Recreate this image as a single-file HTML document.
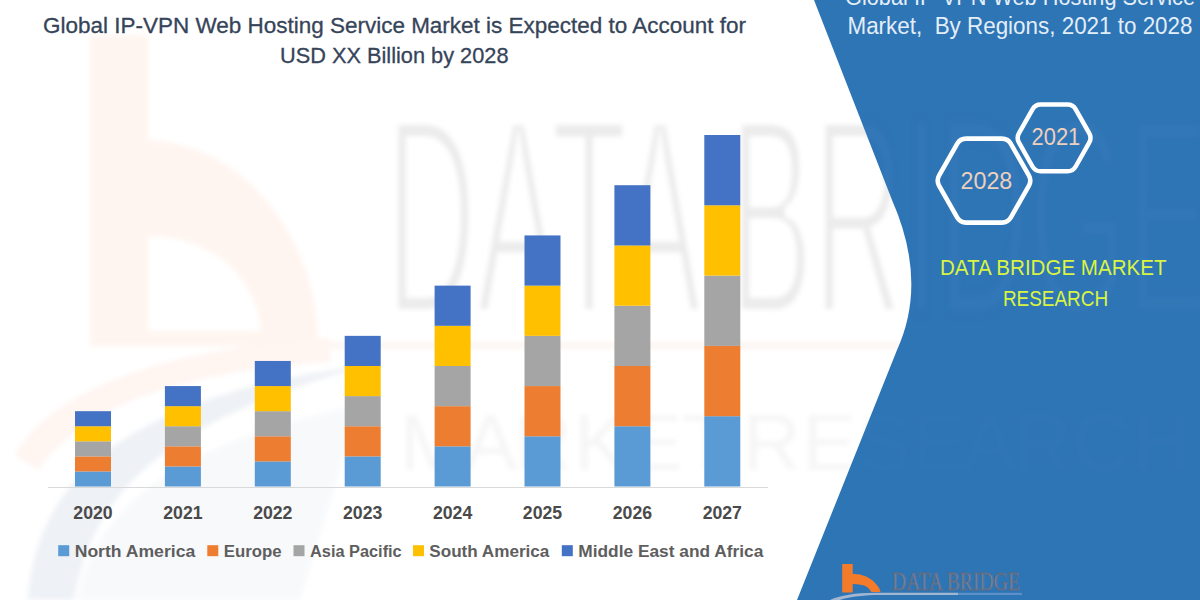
<!DOCTYPE html>
<html><head><meta charset="utf-8">
<style>
html,body{margin:0;padding:0;width:1200px;height:600px;overflow:hidden;background:#fff}
svg{display:block}
text{font-family:"Liberation Sans",sans-serif;white-space:pre}
.yr{font-weight:bold;font-size:17.9px;fill:#4A4A4A}
.lg{font-weight:bold;font-size:16px;fill:#5E5E5E}
.tt{font-size:22px;fill:#364459;stroke:#364459;stroke-width:0.3px}
.rt{font-size:23px;fill:#E3EEF8}
.hx{font-size:23.5px;fill:#EFD0BD}
.dbm{font-size:22px;fill:#DAF442}
.wm{font-size:282px;fill:#EBEBEB;stroke:#FFFFFF;stroke-width:10px}
</style></head><body>
<svg width="1200" height="600" viewBox="0 0 1200 600">
<defs><filter id="bl" x="-10%" y="-10%" width="120%" height="120%"><feGaussianBlur stdDeviation="2.5"/></filter></defs>
<rect width="1200" height="600" fill="#FFFFFF"/>
<g filter="url(#bl)">
<!-- watermark b -->
<path fill-rule="evenodd" d="M90,35 L148,35 L148,140 Q232,145 282,222 Q318,278 318,346 L90,346 Z M148,236 Q192,236 226,262 Q258,290 261,331 L148,331 Z" fill="#FFF5F0"/>
<!-- pink arc -->
<path d="M15,455 C50,395 150,350 330,338 L330,362 C170,372 80,410 38,470 Z" fill="#FFF5F1"/>
<!-- swoosh -->
<path d="M78,600 C95,500 190,440 360,405 L300,600 Z" fill="#F8F9FB"/>
<path d="M28,600 C35,485 120,395 370,365 C170,418 92,490 74,600 Z" fill="#EEF1F6"/>
<rect x="330" y="342" width="570" height="7" fill="#FCF6F3"/>
<!-- watermark letters -->
<text x="386" y="314" textLength="824" lengthAdjust="spacingAndGlyphs" class="wm">DATA BRIDGE</text>
<text x="400" y="470" textLength="790" lengthAdjust="spacing" style="font-size:80px;fill:#F6F6F6">M A R K E T  R E S E A R C H</text>
</g>
<!-- blue panel -->
<path d="M814,0 L892,200 Q928,282 897,350 L797,600 L1200,600 L1200,0 Z" fill="#2E75B6"/>
<clipPath id="pc"><path d="M814,0 L892,200 Q928,282 897,350 L797,600 L1200,600 L1200,0 Z"/></clipPath>
<g clip-path="url(#pc)" opacity="0.02" filter="url(#bl)">
<text x="386" y="314" textLength="824" lengthAdjust="spacingAndGlyphs" style="font-size:282px;fill:#FFFFFF;stroke:#2E75B6;stroke-width:11px">DATA BRIDGE</text>
<text x="400" y="470" textLength="790" lengthAdjust="spacing" style="font-size:80px;fill:#FFFFFF;opacity:0.6">M A R K E T  R E S E A R C H</text>
</g>
<!-- title -->
<text x="43" y="32.5" textLength="703" lengthAdjust="spacingAndGlyphs" class="tt">Global IP-VPN Web Hosting Service Market is Expected to Account for</text>
<text x="280" y="62.5" textLength="228.5" lengthAdjust="spacingAndGlyphs" class="tt">USD XX Billion by 2028</text>
<!-- axis -->
<line x1="48" y1="487.5" x2="768" y2="487.5" stroke="#D9D9D9" stroke-width="1"/>
<rect x="75.0" y="471.44" width="36" height="15.06" fill="#5B9BD5"/><rect x="75.0" y="456.37" width="36" height="15.06" fill="#ED7D31"/><rect x="75.0" y="441.31" width="36" height="15.06" fill="#A5A5A5"/><rect x="75.0" y="426.24" width="36" height="15.06" fill="#FFC000"/><rect x="75.0" y="411.18" width="36" height="15.06" fill="#4472C4"/><rect x="164.9" y="466.41" width="36" height="20.09" fill="#5B9BD5"/><rect x="164.9" y="446.33" width="36" height="20.09" fill="#ED7D31"/><rect x="164.9" y="426.24" width="36" height="20.09" fill="#A5A5A5"/><rect x="164.9" y="406.16" width="36" height="20.09" fill="#FFC000"/><rect x="164.9" y="386.07" width="36" height="20.09" fill="#4472C4"/><rect x="254.8" y="461.39" width="36" height="25.11" fill="#5B9BD5"/><rect x="254.8" y="436.29" width="36" height="25.11" fill="#ED7D31"/><rect x="254.8" y="411.18" width="36" height="25.11" fill="#A5A5A5"/><rect x="254.8" y="386.07" width="36" height="25.11" fill="#FFC000"/><rect x="254.8" y="360.96" width="36" height="25.11" fill="#4472C4"/><rect x="344.7" y="456.37" width="36" height="30.13" fill="#5B9BD5"/><rect x="344.7" y="426.24" width="36" height="30.13" fill="#ED7D31"/><rect x="344.7" y="396.11" width="36" height="30.13" fill="#A5A5A5"/><rect x="344.7" y="365.98" width="36" height="30.13" fill="#FFC000"/><rect x="344.7" y="335.86" width="36" height="30.13" fill="#4472C4"/><rect x="434.6" y="446.33" width="36" height="40.17" fill="#5B9BD5"/><rect x="434.6" y="406.16" width="36" height="40.17" fill="#ED7D31"/><rect x="434.6" y="365.98" width="36" height="40.17" fill="#A5A5A5"/><rect x="434.6" y="325.81" width="36" height="40.17" fill="#FFC000"/><rect x="434.6" y="285.64" width="36" height="40.17" fill="#4472C4"/><rect x="524.5" y="436.29" width="36" height="50.21" fill="#5B9BD5"/><rect x="524.5" y="386.07" width="36" height="50.21" fill="#ED7D31"/><rect x="524.5" y="335.86" width="36" height="50.21" fill="#A5A5A5"/><rect x="524.5" y="285.64" width="36" height="50.21" fill="#FFC000"/><rect x="524.5" y="235.43" width="36" height="50.21" fill="#4472C4"/><rect x="614.4" y="426.24" width="36" height="60.26" fill="#5B9BD5"/><rect x="614.4" y="365.98" width="36" height="60.26" fill="#ED7D31"/><rect x="614.4" y="305.73" width="36" height="60.26" fill="#A5A5A5"/><rect x="614.4" y="245.47" width="36" height="60.26" fill="#FFC000"/><rect x="614.4" y="185.21" width="36" height="60.26" fill="#4472C4"/><rect x="704.3" y="416.20" width="36" height="70.30" fill="#5B9BD5"/><rect x="704.3" y="345.90" width="36" height="70.30" fill="#ED7D31"/><rect x="704.3" y="275.60" width="36" height="70.30" fill="#A5A5A5"/><rect x="704.3" y="205.30" width="36" height="70.30" fill="#FFC000"/><rect x="704.3" y="135.00" width="36" height="70.30" fill="#4472C4"/>
<text x="93.0" y="518.7" text-anchor="middle" textLength="39.3" lengthAdjust="spacingAndGlyphs" class="yr">2020</text><text x="182.9" y="518.7" text-anchor="middle" textLength="39.3" lengthAdjust="spacingAndGlyphs" class="yr">2021</text><text x="272.8" y="518.7" text-anchor="middle" textLength="39.3" lengthAdjust="spacingAndGlyphs" class="yr">2022</text><text x="362.7" y="518.7" text-anchor="middle" textLength="39.3" lengthAdjust="spacingAndGlyphs" class="yr">2023</text><text x="452.6" y="518.7" text-anchor="middle" textLength="39.3" lengthAdjust="spacingAndGlyphs" class="yr">2024</text><text x="542.5" y="518.7" text-anchor="middle" textLength="39.3" lengthAdjust="spacingAndGlyphs" class="yr">2025</text><text x="632.4" y="518.7" text-anchor="middle" textLength="39.3" lengthAdjust="spacingAndGlyphs" class="yr">2026</text><text x="722.3" y="518.7" text-anchor="middle" textLength="39.3" lengthAdjust="spacingAndGlyphs" class="yr">2027</text>
<!-- legend -->
<rect x="58.2" y="545.2" width="11" height="11" fill="#5B9BD5"/>
<text x="74.7" y="556.8" textLength="120.5" lengthAdjust="spacingAndGlyphs" class="lg">North America</text>
<rect x="207.3" y="545.2" width="11" height="11" fill="#ED7D31"/>
<text x="223.8" y="556.8" textLength="57.8" lengthAdjust="spacingAndGlyphs" class="lg">Europe</text>
<rect x="293.5" y="545.2" width="11" height="11" fill="#A5A5A5"/>
<text x="310" y="556.8" textLength="91.7" lengthAdjust="spacingAndGlyphs" class="lg">Asia Pacific</text>
<rect x="413" y="545.2" width="11" height="11" fill="#FFC000"/>
<text x="429.3" y="556.8" textLength="120.1" lengthAdjust="spacingAndGlyphs" class="lg">South America</text>
<rect x="561.8" y="545.2" width="11" height="11" fill="#4472C4"/>
<text x="578.3" y="556.8" textLength="185" lengthAdjust="spacingAndGlyphs" class="lg">Middle East and Africa</text>
<!-- right title -->
<text x="845" y="4.7" textLength="350" lengthAdjust="spacingAndGlyphs" class="rt">Global IP-VPN Web Hosting Service</text>
<text x="847.5" y="34.2" textLength="345" lengthAdjust="spacingAndGlyphs" class="rt">Market,  By Regions, 2021 to 2028</text>
<!-- hexagons -->
<path d="M939.17,185.81 Q936.20,180.60 939.17,175.39 L957.13,143.81 Q960.10,138.60 966.10,138.60 L1001.90,138.60 Q1007.90,138.60 1010.87,143.81 L1028.83,175.39 Q1031.80,180.60 1028.83,185.81 L1010.87,217.39 Q1007.90,222.60 1001.90,222.60 L966.10,222.60 Q960.10,222.60 957.13,217.39 Z" fill="none" stroke="#FFFFFF" stroke-width="4.6"/>
<path d="M1019.01,142.69 Q1016.30,137.90 1019.01,133.11 L1032.49,109.29 Q1035.20,104.50 1040.70,104.50 L1067.50,104.50 Q1073.00,104.50 1075.71,109.29 L1089.19,133.11 Q1091.90,137.90 1089.19,142.69 L1075.71,166.51 Q1073.00,171.30 1067.50,171.30 L1040.70,171.30 Q1035.20,171.30 1032.49,166.51 Z" fill="none" stroke="#FFFFFF" stroke-width="4.5"/>
<text x="960.5" y="188.8" textLength="51.8" lengthAdjust="spacingAndGlyphs" class="hx">2028</text>
<text x="1031.5" y="145" textLength="48.8" lengthAdjust="spacingAndGlyphs" class="hx">2021</text>
<!-- DBMR -->
<text x="940" y="275.4" textLength="226.5" lengthAdjust="spacingAndGlyphs" class="dbm">DATA BRIDGE MARKET</text>
<text x="1002.9" y="305.8" textLength="105.2" lengthAdjust="spacingAndGlyphs" class="dbm">RESEARCH</text>
<!-- bottom logo -->
<path d="M842.2,564 L852.7,564 L852.7,573.7 Q868,574 876,584 Q880,588 880.5,592 L871.5,592 Q868,586 862,585 Q857,584 852.7,584 L852.7,592.5 L842.2,592.5 Z" fill="#F47B2A"/>
<path d="M830,600 Q845,593 875,592.8 L958,592.8 L958,595 L875,595 Q850,596 840,600 Z" fill="#A3B6CF"/>
<rect x="958" y="592.8" width="64" height="2.2" fill="#5D8FC9"/>
<text x="892" y="590" textLength="128" lengthAdjust="spacingAndGlyphs" style="font-family:'Liberation Serif',serif;font-size:26px;fill:#7487A3;stroke:#5C6C84;stroke-width:0.9px">DATA BRIDGE</text>
</svg>
</body></html>
